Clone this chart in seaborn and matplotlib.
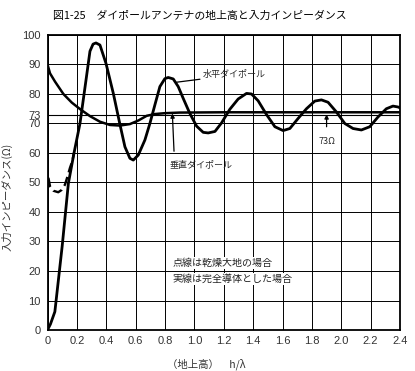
import matplotlib
matplotlib.use("Agg")
import matplotlib.pyplot as plt
import seaborn as sns
import pandas as pd

# ---- data ----
# horizontal dipole, perfect ground (solid)
hx = [0, 0.02, 0.05, 0.10, 0.142, 0.18, 0.221, 0.262, 0.289, 0.31, 0.33, 0.357, 0.398, 0.448,
      0.493, 0.527, 0.561, 0.584, 0.618, 0.663, 0.697, 0.731, 0.765, 0.799, 0.822, 0.856,
      0.89, 0.924, 0.969, 1.015, 1.06, 1.094, 1.14, 1.185, 1.241, 1.298, 1.355, 1.389,
      1.434, 1.49, 1.548, 1.604, 1.65, 1.706, 1.763, 1.82, 1.865, 1.91, 1.967, 2.024,
      2.08, 2.137, 2.194, 2.25, 2.307, 2.352, 2.386, 2.4]
hy = [0, 2.0, 6.2, 28.5, 49.7, 59.9, 70, 84.7, 94.5, 96.9, 97.3, 96.6, 90.4, 80.2,
      69.7, 62.1, 58.2, 57.6, 59.3, 64.4, 70, 76.3, 82.5, 85.2, 85.6, 85.1,
      82.5, 78.5, 73.4, 69.1, 67.0, 66.8, 67.3, 70.2, 74.8, 78.3, 80.2, 80.0,
      77.7, 73.1, 68.9, 67.6, 68.3, 71.7, 75.0, 77.6, 78.0, 77.2, 73.9, 70.0,
      68.3, 67.8, 68.9, 72.2, 75.0, 75.9, 75.6, 75.3]

# horizontal dipole, dry ground (dashed)
dx = [0.006, 0.017, 0.04, 0.073, 0.097, 0.119, 0.137, 0.153, 0.169, 0.18]
dy = [51.6, 48.7, 47.2, 46.7, 47.5, 49.3, 52.2, 55.0, 57.3, 60.0]

# vertical dipole (solid)
vx = [0, 0.017, 0.051, 0.108, 0.165, 0.221, 0.289, 0.357, 0.425, 0.493, 0.561,
      0.618, 0.675, 0.731, 0.8, 0.9, 1.2, 1.8, 2.4]
vy = [90, 87, 84.2, 80, 77.1, 74.9, 72.5, 70.6, 69.5, 69.3, 69.8,
      71, 72.6, 73.2, 73.5, 73.7, 73.8, 73.8, 73.8]

xticks = [0, 0.2, 0.4, 0.6, 0.8, 1.0, 1.2, 1.4, 1.6, 1.8, 2.0, 2.2, 2.4]
xticklabels = ["0", "0.2", "0.4", "0.6", "0.8", "1.0", "1.2", "1.4", "1.6", "1.8", "2.0", "2.2", "2.4"]
yticks = [0, 10, 20, 30, 40, 50, 60, 70, 73, 80, 90, 100]
yticklabels = ["0", "10", "20", "30", "40", "50", "60", "70", "73", "80", "90", "100"]

title = "図1-25　ダイポールアンテナの地上高と入力インピーダンス"
ylabel = "入力インピーダンス(Ω)"
xlabel = "（地上高）　h/λ"

# ---- drawing ----
sns.set_style("white")
plt.rcParams['font.family'] = ['Noto Sans CJK JP', 'DejaVu Sans']

fig = plt.figure(figsize=(4.15, 3.71), dpi=100)
ax = fig.add_axes([0.1145, 0.1105, 0.8494, 0.7952])

df_h = pd.DataFrame({"x": hx, "y": hy})
df_d = pd.DataFrame({"x": dx, "y": dy})
df_v = pd.DataFrame({"x": vx, "y": vy})

sns.lineplot(data=df_h, x="x", y="y", ax=ax, color="black", lw=2.0, sort=False, estimator=None, zorder=5)
sns.lineplot(data=df_v, x="x", y="y", ax=ax, color="black", lw=1.8, sort=False, estimator=None, zorder=5)
sns.lineplot(data=df_d, x="x", y="y", ax=ax, color="black", lw=1.7, sort=False, estimator=None,
             zorder=5).lines[-1].set_dashes([4, 2])

ax.axhline(73, color="black", lw=0.8, zorder=2)

ax.set_xlim(0, 2.4)
ax.set_ylim(0, 100)
ax.set_xticks(xticks)
ax.set_xticklabels(xticklabels)
ax.set_yticks(yticks)
ax.set_yticklabels(yticklabels)
ax.tick_params(axis="both", labelsize=8, colors="#333333", length=3, width=0.7, pad=2)
ax.tick_params(axis="x", length=0, pad=4)
for lab in ax.get_xticklabels() + ax.get_yticklabels():
    lab.set_fontfamily(["Liberation Sans", "DejaVu Sans"])
ax.grid(True, color="black", lw=0.7)
for sp in ax.spines.values():
    sp.set_color("black")
    sp.set_linewidth(1.3)

ax.set_xlabel(xlabel, fontsize=7.5, color="#333333")
ax.xaxis.set_label_coords(0.45, -0.095)
ax.set_ylabel(ylabel, fontsize=7.5, color="#333333")
ax.yaxis.set_label_coords(-0.10, 0.45)

fig.text(53 / 415, 1 - 16 / 371, title, ha="left", va="center", fontsize=7.8, color="black")

# annotations
ax.annotate("水平ダイポール", xy=(0.88, 84.0), xytext=(1.06, 86.5), fontsize=6.5,
            ha="left", va="center", arrowprops=dict(arrowstyle="-", color="black", lw=0.9,
                                                    shrinkA=0, shrinkB=0), zorder=6)
ax.annotate("垂直ダイポール", xy=(0.85, 73.4), xytext=(0.83, 55.6), fontsize=6.5,
            ha="left", va="center", arrowprops=dict(arrowstyle="-|>", color="black", lw=0.9,
                                                    mutation_scale=6, shrinkA=5, shrinkB=0,
                                                    relpos=(0.08, 1.0)), zorder=6)
ax.annotate("73Ω", xy=(1.90, 73.1), xytext=(1.90, 63.9), fontsize=6.5,
            ha="center", va="center", arrowprops=dict(arrowstyle="-|>", color="black", lw=0.9,
                                                    mutation_scale=6, shrinkA=5, shrinkB=0), zorder=6)
ax.text(0.85, 22.7, "点線は乾燥大地の場合", fontsize=7.2, ha="left", va="center", color="#222222",
        bbox=dict(facecolor="white", edgecolor="none", pad=0.5), zorder=6)
ax.text(0.85, 17.3, "実線は完全導体とした場合", fontsize=7.2, ha="left", va="center", color="#222222",
        bbox=dict(facecolor="white", edgecolor="none", pad=0.5), zorder=6)

fig.savefig("out.png", dpi=100)
